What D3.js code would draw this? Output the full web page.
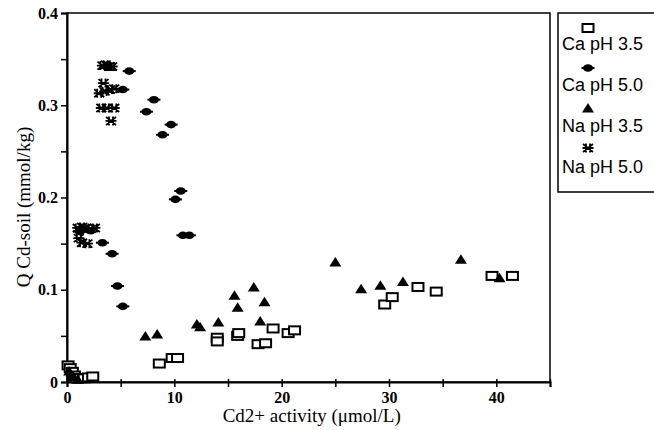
<!DOCTYPE html>
<html>
<head>
<meta charset="utf-8">
<script src="https://cdn.jsdelivr.net/npm/d3@7"></script>
<style>
  body { margin: 0; background: #fff; }
  text { fill: #000; }
</style>
</head>
<body>
<div class="chart"></div>
<script>
// Cd sorption vs Cd2+ activity
let margin = { top: 13, right: 104, bottom: 48, left: 67 };
let width = 654 - margin.left - margin.right;
let height = 430 - margin.top - margin.bottom;

// series values [activity umol/L, Q mmol/kg]
let caPH35 = [
  [0.1, 0.018], [0.3, 0.015], [0.5, 0.011], [0.7, 0.007], [0.9, 0.004],
  [1.2, 0.004], [1.6, 0.004], [2.0, 0.005], [2.4, 0.006],
  [8.6, 0.020], [9.8, 0.026], [10.3, 0.026],
  [14.0, 0.048], [14.0, 0.044], [15.9, 0.050], [16.0, 0.053],
  [17.8, 0.041], [18.5, 0.042], [19.2, 0.058], [20.6, 0.053], [21.2, 0.056],
  [29.6, 0.084], [30.3, 0.092], [32.7, 0.103], [34.4, 0.098],
  [39.6, 0.115], [41.5, 0.115]
];
let caPH50 = [
  [1.2, 0.163], [2.2, 0.164], [3.3, 0.151], [4.2, 0.139], [4.7, 0.104], [5.2, 0.082],
  [5.8, 0.337], [5.2, 0.317], [8.1, 0.306], [7.4, 0.293], [9.7, 0.279], [8.9, 0.268],
  [10.6, 0.207], [10.1, 0.198], [10.8, 0.159], [11.4, 0.159]
];
let naPH35 = [
  [0.2, 0.012], [0.6, 0.006], [1.0, 0.003],
  [7.3, 0.050], [8.4, 0.052], [12.1, 0.063], [12.4, 0.060], [14.1, 0.065],
  [15.6, 0.094], [15.9, 0.081], [17.4, 0.103], [18.4, 0.087], [18.0, 0.066],
  [25.0, 0.130], [27.4, 0.101], [29.2, 0.105], [31.3, 0.109], [36.7, 0.133], [40.3, 0.113]
];
let naPH50 = [
  [3.3, 0.343], [3.6, 0.344], [3.9, 0.342], [4.2, 0.342],
  [3.4, 0.324], [3.0, 0.313], [3.5, 0.315], [4.0, 0.317], [4.4, 0.318],
  [3.2, 0.297], [3.7, 0.297], [4.4, 0.297], [4.1, 0.283],
  [1.0, 0.167], [1.4, 0.168], [1.8, 0.167], [2.2, 0.166], [2.6, 0.167],
  [1.1, 0.156], [1.4, 0.151], [1.9, 0.150]
];
let legendLabels = ["Ca pH 3.5", "Ca pH 5.0", "Na pH 3.5", "Na pH 5.0"];
let xTicks = [0, 10, 20, 30, 40];
let yTicks = [0, 0.1, 0.2, 0.3, 0.4];

let svg = d3
  .select(".chart")
  .append("svg")
  .attr("width", 654)
  .attr("height", 430)
  .append("g")
  .attr("transform", `translate(${margin.left}, ${margin.top})`);

let xScale = d3.scaleLinear().domain([0, 45]).range([0, width]);
let yScale = d3.scaleLinear().domain([0, 0.4]).range([height, 0]);

// frame
svg
  .append("rect")
  .attr("width", width)
  .attr("height", height)
  .style("fill", "none")
  .style("stroke", "#000")
  .style("stroke-width", 1.5);

// Y axis
let yAxis = d3
  .axisLeft(yScale)
  .tickValues(d3.range(0, 0.401, 0.05))
  .tickSize(6)
  .tickPadding(3)
  .tickFormat((d) => (yTicks.some((t) => Math.abs(t - d) < 1e-6) ? d3.format("")(+d.toFixed(1)) : ""));
let gy = svg.append("g").call(yAxis);

// X axis
let xAxis = d3
  .axisBottom(xScale)
  .tickValues(d3.range(0, 46, 5))
  .tickSize(5)
  .tickPadding(5)
  .tickFormat((d) => (xTicks.includes(d) ? d : ""));
let gx = svg.append("g").attr("transform", `translate(0, ${height})`).call(xAxis);

[gx, gy].forEach((g) => {
  g.select(".domain").style("stroke-width", 2);
  g.selectAll(".tick line").style("stroke-width", 1.5);
  g.selectAll("text")
    .style("font-family", "Liberation Serif, Times New Roman, serif")
    .style("font-size", "16px")
    .style("font-weight", "bold");
});
gx.selectAll(".tick line").attr("y1", -3);

// axis titles
svg
  .append("text")
  .attr("x", xScale(29.8 - 7))
  .attr("y", height + 40)
  .attr("text-anchor", "middle")
  .style("font-family", "Liberation Serif, Times New Roman, serif")
  .style("font-size", "19px")
  .text("Cd2+ activity (μmol/L)");

svg
  .append("text")
  .attr("transform", `translate(-37, ${207 - margin.top}) rotate(-90)`)
  .attr("text-anchor", "middle")
  .style("font-family", "Liberation Serif, Times New Roman, serif")
  .style("font-size", "19px")
  .text("Q Cd-soil (mmol/kg)");

// marker drawers
function drawSquare(g) {
  g.append("rect")
    .attr("x", -5.5).attr("y", -4)
    .attr("width", 11).attr("height", 8)
    .style("fill", "#fff").style("stroke", "#000").style("stroke-width", 2);
}
function drawDot(g) {
  g.append("ellipse").attr("rx", 5).attr("ry", 3.8).style("fill", "#000");
  g.append("path").attr("d", "M-6.5,0H6.5").style("stroke", "#000").style("stroke-width", 2);
}
function drawTri(g) {
  g.append("path").attr("d", "M0,-5L6,4.5L-6,4.5Z").style("fill", "#000");
}
function drawStar(g) {
  g.append("path")
    .attr("d", "M-5,-4L5,4M-5,4L5,-4M-5.5,0H5.5M-2,-4.5V4.5M2,-4.5V4.5")
    .style("stroke", "#000").style("stroke-width", 1.8).style("fill", "none");
}

let series = [
  { data: caPH35, draw: drawSquare },
  { data: naPH35, draw: drawTri },
  { data: naPH50, draw: drawStar },
  { data: caPH50, draw: drawDot },
];

series.forEach((s) => {
  svg
    .append("g")
    .selectAll("g")
    .data(s.data)
    .enter()
    .append("g")
    .attr("transform", (d) => `translate(${xScale(d[0])}, ${yScale(d[1])})`)
    .each(function () {
      s.draw(d3.select(this));
    });
});

// legend
let legend = d3.select("svg").append("g").attr("transform", "translate(558, 13)");
legend
  .append("rect")
  .attr("width", 110)
  .attr("height", 179)
  .style("fill", "#fff")
  .style("stroke", "#000")
  .style("stroke-width", 1.5);

let drawers = [drawSquare, drawDot, drawTri, drawStar];
legendLabels.forEach((label, i) => {
  let sym = legend.append("g").attr("transform", `translate(30, ${15 + i * 40})`);
  drawers[i](sym);
  legend
    .append("text")
    .attr("x", 4)
    .attr("y", 37 + i * 41)
    .style("font-family", "Liberation Sans, Arial, sans-serif")
    .style("font-size", "18px")
    .text(label);
});
</script>
</body>
</html>
